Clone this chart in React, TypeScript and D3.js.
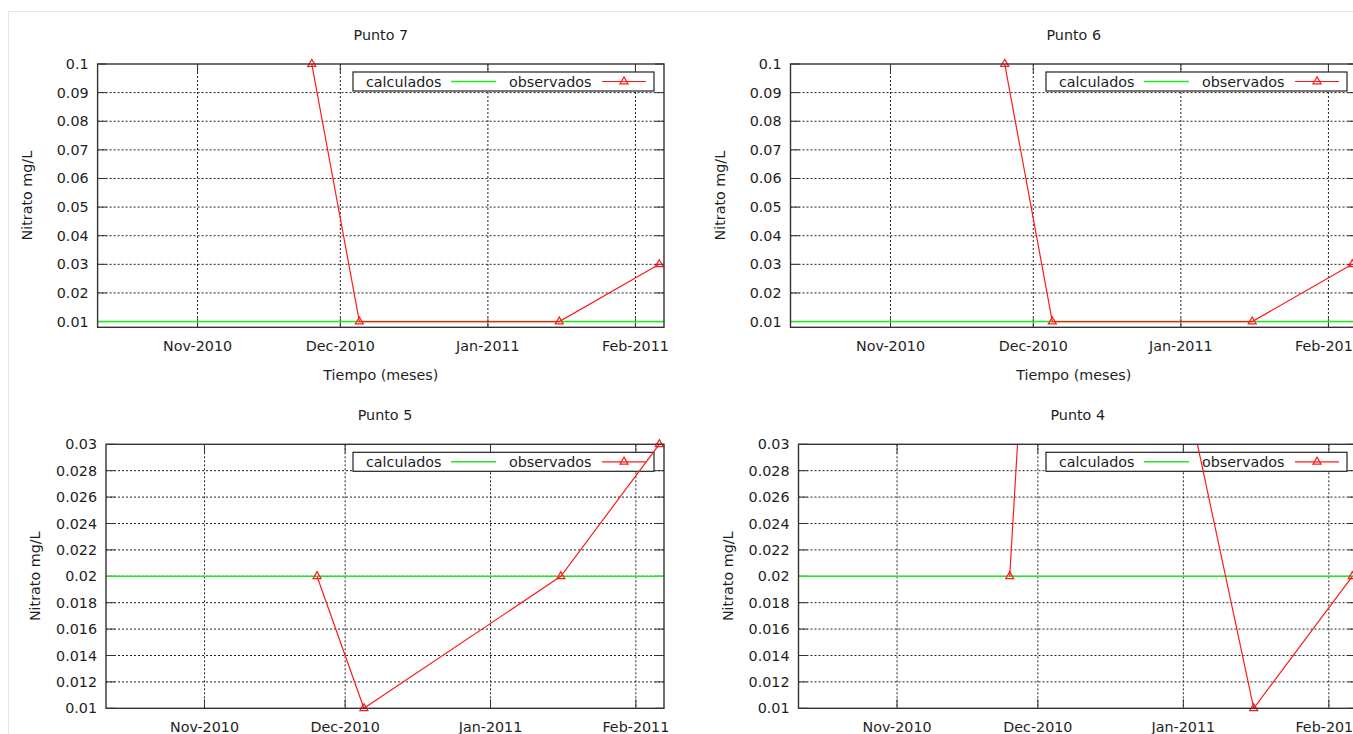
import React from 'react';
import * as d3 from 'd3';

// ---- data ----
const panelTitles = ['Punto 7', 'Punto 6', 'Punto 5', 'Punto 4'];

const obsDates = ['2010-11-25', '2010-12-05', '2011-01-16', '2011-02-06'];
const obsPunto7 = [0.1, 0.01, 0.01, 0.03];
const obsPunto6 = [0.1, 0.01, 0.01, 0.03];
const obsPunto5 = [0.02, 0.01, 0.02, 0.03];
const obsPunto4 = [0.02, 0.08, 0.01, 0.02];

const calcDates = ['2010-10-11', '2011-02-07'];
const calcPunto7 = [0.01, 0.01];
const calcPunto6 = [0.01, 0.01];
const calcPunto5 = [0.02, 0.02];
const calcPunto4 = [0.02, 0.02];

const xTickDates = ['2010-11-01', '2010-12-01', '2011-01-01', '2011-02-01'];
const xDomainDates = ['2010-10-11', '2011-02-07'];

const yTicksUpper = [0.01, 0.02, 0.03, 0.04, 0.05, 0.06, 0.07, 0.08, 0.09, 0.1];
const yTicksLower = [0.01, 0.012, 0.014, 0.016, 0.018, 0.02, 0.022, 0.024, 0.026, 0.028, 0.03];
const yDomainUpper = [0.008, 0.1];
const yDomainLower = [0.01, 0.03];

const legendLabels = ['calculados', 'observados'];
const xAxisLabel = 'Tiempo (meses)';
const yAxisLabel = 'Nitrato mg/L';

const W = 1353;
const H = 734;
const FONT = '"DejaVu Sans", Verdana, sans-serif';
const FS = 14.3;
const TXT = '#1e1e1e';
const GREEN = '#22e822';
const RED = '#ff1a1a';

const parse = d3.utcParse('%Y-%m-%d');
const fmtMonth = d3.utcFormat('%b-%Y');
const fmtY = d3.format('~g');

const panels = [
  { title: panelTitles[0], obs: obsPunto7, calc: calcPunto7, left: 97.6, right: 664, top: 64, bottom: 327.3, yDomain: yDomainUpper, yTicks: yTicksUpper },
  { title: panelTitles[1], obs: obsPunto6, calc: calcPunto6, left: 790.5, right: 1357, top: 64, bottom: 327.3, yDomain: yDomainUpper, yTicks: yTicksUpper },
  { title: panelTitles[2], obs: obsPunto5, calc: calcPunto5, left: 106, right: 664, top: 444.3, bottom: 708.3, yDomain: yDomainLower, yTicks: yTicksLower },
  { title: panelTitles[3], obs: obsPunto4, calc: calcPunto4, left: 798.5, right: 1357, top: 444.3, bottom: 708.3, yDomain: yDomainLower, yTicks: yTicksLower },
];

type PanelCfg = typeof panels[number];

const Panel: React.FC<{ p: PanelCfg; idx: number }> = ({ p, idx }) => {
  const x = d3.scaleUtc()
    .domain(xDomainDates.map(d => parse(d) as Date))
    .range([p.left, p.right]);
  const y = d3.scaleLinear().domain(p.yDomain).range([p.bottom, p.top]);

  const obsPts = obsDates.map((d, i) => ({ date: parse(d) as Date, v: p.obs[i] }));
  const calcPts = calcDates.map((d, i) => ({ date: parse(d) as Date, v: p.calc[i] }));

  const line = d3.line<{ date: Date; v: number }>()
    .x(d => x(d.date))
    .y(d => y(d.v));

  const tri = d3.symbol(d3.symbolTriangle, 28)() || '';
  const xTicks = xTickDates.map(d => parse(d) as Date);
  const cx = (p.left + p.right) / 2;
  const cy = (p.top + p.bottom) / 2;
  const tick = 9;
  const clipId = `plot-clip-${idx}`;

  // legend box sits in the plot's top-right corner
  const lgW = 301, lgH = 19;
  const lgX = p.right - 10 - lgW;
  const lgY = p.top + 8;
  const lgMid = lgY + lgH / 2;

  return (
    <g>
      <defs>
        <clipPath id={clipId}>
          <rect x={p.left} y={p.top} width={p.right - p.left} height={p.bottom - p.top} />
        </clipPath>
      </defs>

      {/* grid */}
      <g stroke="#222" strokeWidth={1} strokeDasharray="2,2" fill="none">
        {p.yTicks.filter(t => y(t) > p.top + 1 && y(t) < p.bottom - 1).map(t => (
          <line key={'gy' + t} x1={p.left} x2={p.right} y1={y(t)} y2={y(t)} />
        ))}
        {xTicks.map(t => (
          <line key={'gx' + +t} x1={x(t)} x2={x(t)} y1={p.top} y2={p.bottom} />
        ))}
      </g>

      {/* tick marks, mirrored */}
      <g stroke="#333" strokeWidth={1}>
        {p.yTicks.map(t => (
          <g key={'ty' + t}>
            <line x1={p.left} x2={p.left + tick} y1={y(t)} y2={y(t)} />
            <line x1={p.right} x2={p.right - tick} y1={y(t)} y2={y(t)} />
          </g>
        ))}
        {xTicks.map(t => (
          <g key={'tx' + +t}>
            <line x1={x(t)} x2={x(t)} y1={p.bottom} y2={p.bottom - tick} />
            <line x1={x(t)} x2={x(t)} y1={p.top} y2={p.top + tick} />
          </g>
        ))}
      </g>

      {/* legend */}
      <rect x={lgX} y={lgY} width={lgW} height={lgH} fill="#fff" stroke="#222" strokeWidth={1.2} />
      <text x={lgX + 13} y={lgMid} dy="0.35em" fontSize={FS} fontFamily={FONT} fill={TXT}>{legendLabels[0]}</text>
      <line x1={lgX + 98} x2={lgX + 143} y1={lgMid} y2={lgMid} stroke={GREEN} strokeWidth={1.5} />
      <text x={lgX + 156} y={lgMid} dy="0.35em" fontSize={FS} fontFamily={FONT} fill={TXT}>{legendLabels[1]}</text>
      <line x1={lgX + 249} x2={lgX + 293} y1={lgMid} y2={lgMid} stroke={RED} strokeWidth={1.2} />
      <path d={tri} transform={`translate(${lgX + 271},${lgMid})`} fill="none" stroke={RED} strokeWidth={1.2} />

      {/* data */}
      <g clipPath={`url(#${clipId})`}>
        <path d={line(calcPts) || ''} fill="none" stroke={GREEN} strokeWidth={1.5} />
        <path d={line(obsPts) || ''} fill="none" stroke={RED} strokeWidth={1.2} />
      </g>
      {obsPts.filter(d => d.v >= p.yDomain[0] && d.v <= p.yDomain[1]).map((d, i) => (
        <path key={'m' + i} d={tri} transform={`translate(${x(d.date)},${y(d.v)})`}
          fill="none" stroke={RED} strokeWidth={1.2} />
      ))}

      {/* frame */}
      <rect x={p.left} y={p.top} width={p.right - p.left} height={p.bottom - p.top}
        fill="none" stroke="#333" strokeWidth={1.4} />

      {/* tick labels */}
      {p.yTicks.map(t => (
        <text key={'ly' + t} x={p.left - 9} y={y(t)} dy="0.35em" textAnchor="end"
          fontSize={FS} fontFamily={FONT} fill={TXT}>{fmtY(t)}</text>
      ))}
      {xTicks.map(t => (
        <text key={'lx' + +t} x={x(t)} y={p.bottom + 19} dy="0.35em" textAnchor="middle"
          fontSize={FS} fontFamily={FONT} fill={TXT}>{fmtMonth(t)}</text>
      ))}

      {/* titles */}
      <text x={cx} y={p.top - 29} dy="0.35em" textAnchor="middle" fontSize={FS} fontFamily={FONT} fill={TXT}>{p.title}</text>
      {p.bottom + 48 < H && (
        <text x={cx} y={p.bottom + 48} dy="0.35em" textAnchor="middle" fontSize={FS} fontFamily={FONT} fill={TXT}>{xAxisLabel}</text>
      )}
      <text transform={`translate(${p.left - 71},${cy}) rotate(-90)`} dy="0.35em" textAnchor="middle"
        fontSize={FS} fontFamily={FONT} fill={TXT}>{yAxisLabel}</text>
    </g>
  );
};

const App: React.FC = () => {
  return (
    <svg width={W} height={H} style={{ position: 'absolute', left: 0, top: 0, display: 'block', background: '#fff' }}>
      <rect x={0} y={0} width={W} height={H} fill="#fff" />
      {/* faint frame of the original screenshot */}
      <line x1={8.5} x2={8.5} y1={11} y2={H} stroke="#e6e6e6" strokeWidth={1} />
      <line x1={8} x2={W} y1={11.5} y2={11.5} stroke="#e6e6e6" strokeWidth={1} />
      {panels.map((p, i) => <Panel key={p.title} p={p} idx={i} />)}
    </svg>
  );
};

export default App;
